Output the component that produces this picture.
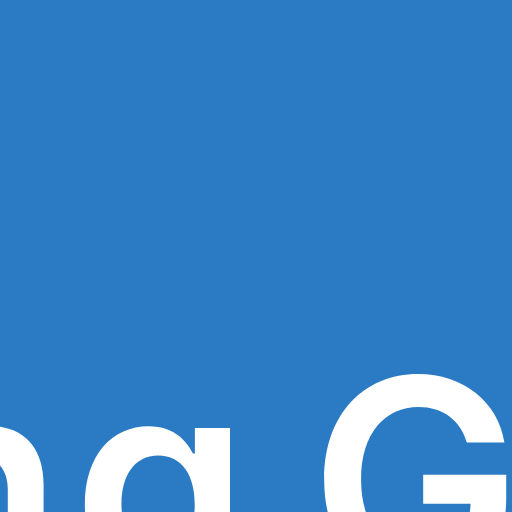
import React from "react";

const WIDTH = 512;
const HEIGHT = 512;
const BG = "#2b7bc4";
const letters = ["n", "g"];
const word2 = "G";

export default function App() {
  return (
    <svg
      width={WIDTH}
      height={HEIGHT}
      style={{ position: "fixed", left: 0, top: 0, display: "block" }}
    >
      <rect x={0} y={0} width={WIDTH} height={HEIGHT} fill={BG} />
      <text
        x={249}
        y={582}
        textAnchor="end"
        fontFamily="Inter"
        fontWeight={600}
        fontSize={282}
        fill="#ffffff"
      >
        <tspan>{letters[0]}</tspan>
        <tspan dx={10}>{letters[1]}</tspan>
      </text>
      <text
        x={310}
        y={582}
        textAnchor="start"
        fontFamily="Inter"
        fontWeight={600}
        fontSize={282}
        fill="#ffffff"
      >
        {word2}
      </text>
    </svg>
  );
}
